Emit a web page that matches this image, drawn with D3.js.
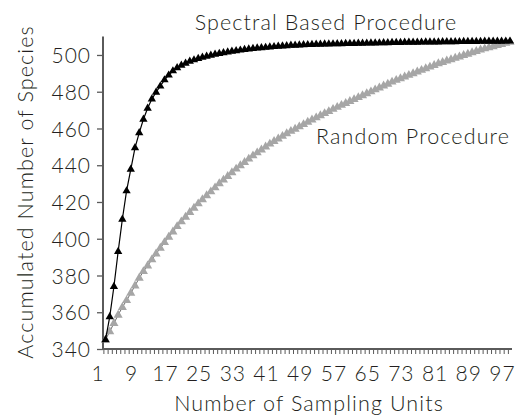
<!DOCTYPE html>
<html><head><meta charset="utf-8">
<script src="https://cdn.jsdelivr.net/npm/d3@7"></script>
<style>
html,body{margin:0;padding:0;background:#fff;}
svg text{font-family:Lato,"Open Sans",sans-serif;font-weight:300;fill:#231f20;}
</style></head>
<body><svg id="c" width="524" height="418"></svg>
<script>
const units = d3.range(1, 98);
const spectral = [345,357.5,374,393,410.6,426,437.8,449.5,457.6,465,471,476,479.7,483,486.4,489,491.3,493,494.4,495.5,
496.5,497.3,498,498.7,499.3,499.8,500.3,500.8,501.2,501.6,502,502.3,502.6,502.9,503.2,503.5,503.7,503.9,504.1,504.3,
504.5,504.7,504.9,505,505.2,505.3,505.4,505.5,505.6,505.7,505.8,505.85,505.9,505.95,506,506.05,506.1,506.15,506.2,506.25,
506.3,506.35,506.4,506.45,506.5,506.55,506.6,506.65,506.7,506.75,506.8,506.83,506.86,506.89,506.92,506.95,506.98,507.01,507.04,507.07,
507.1,507.13,507.16,507.19,507.22,507.25,507.28,507.31,507.34,507.37,507.4,507.42,507.44,507.46,507.48,507.5,507.5];
const random = [345,349.5,354,358.5,362.7,366.4,370.4,374.4,378.6,382.2,385.3,388.6,391.8,394.9,398,400.9,403.8,406.7,409.3,411.8,
414.4,416.7,419.1,421.3,423.5,425.6,427.8,430,432,434,436,438,439.8,441.6,443.4,445.2,446.8,448.4,450,451.6,
453,454.4,455.8,457.2,458.5,459.7,461,462.2,463.5,464.7,465.9,467,468.2,469.3,470.5,471.6,472.7,473.7,474.8,475.8,
476.9,477.9,479,480,481.1,482.1,483.2,484.2,485.3,486.3,487.2,488.1,489,489.9,490.8,491.7,492.6,493.5,494.4,495.3,
496,496.8,497.5,498.3,499,499.8,500.5,501.3,502,502.8,503.4,504,504.6,505.2,505.8,506.4,507];
const yTicks = [340,360,380,400,420,440,460,480,500];
const xLabels = [1,9,17,25,33,41,49,57,65,73,81,89,97];
const titleSpectral = "Spectral Based Procedure";
const titleRandom = "Random Procedure";
const xTitle = "Number of Sampling Units";
const yTitle = "Accumulated Number of Species";

const svg = d3.select("#c");
const x = d3.scalePoint().domain(units).range([105.5, 510]);
const y = d3.scaleLinear().domain([340, 510]).range([349, 36.6]);
const axisColor = "#5a5a5a";

// Y axis
const gy = svg.append("g").attr("transform","translate(103,0)")
  .call(d3.axisLeft(y).tickValues(yTicks).tickSize(6).tickPadding(6).tickSizeOuter(0));
gy.select(".domain").remove();
gy.selectAll(".tick line").attr("stroke",axisColor).attr("stroke-width",1.3);
gy.selectAll(".tick text").attr("font-size",21).attr("dy","0.36em").attr("letter-spacing",1)
  .style("font-family","Lato,sans-serif");
svg.append("line").attr("x1",103).attr("x2",103).attr("y1",y(510)).attr("y2",y(340))
  .attr("stroke",axisColor).attr("stroke-width",2);

// X axis minor ticks
const gx = svg.append("g").attr("transform","translate(0,349)")
  .call(d3.axisBottom(x).tickValues(units).tickSize(5).tickFormat(""));
gx.select(".domain").remove();
gx.selectAll(".tick line").attr("stroke",axisColor).attr("stroke-width",1).attr("transform","translate(-2.1,0)");
svg.append("line").attr("x1",102).attr("x2",512).attr("y1",349).attr("y2",349)
  .attr("stroke",axisColor).attr("stroke-width",2);
// X labels
const gxl = svg.append("g").attr("transform","translate(0,349)")
  .call(d3.axisBottom(x).tickValues(xLabels).tickSize(0).tickPadding(17));
gxl.select(".domain").remove();
gxl.selectAll(".tick text").attr("font-size",21).attr("dx",-8).attr("letter-spacing",1)
  .style("font-family","Lato,sans-serif");

const tri = d3.symbol().type(d3.symbolTriangle);
const line = d3.line().x((d,i)=>x(units[i])).y(d=>y(d));

// Random series
svg.append("path").datum(random).attr("d",line).attr("fill","none").attr("stroke","#444").attr("stroke-width",0.8);
svg.append("g").selectAll("path").data(random).join("path")
  .attr("d",tri.size(36)).attr("fill","#a6a6a6")
  .attr("transform",(d,i)=>`translate(${x(units[i])},${y(d)})`);

// Spectral series
svg.append("path").datum(spectral).attr("d",line).attr("fill","none").attr("stroke","#000").attr("stroke-width",1.2);
svg.append("g").selectAll("path").data(spectral).join("path")
  .attr("d",tri.size(30)).attr("fill","#000")
  .attr("transform",(d,i)=>`translate(${x(units[i])},${y(d)})`);

// Texts
const T = (s)=>svg.append("text").attr("font-size",21.5).attr("letter-spacing",1.1).attr("text-anchor","middle").text(s);
T(titleSpectral).attr("x",326).attr("y",29.5);
T(titleRandom).attr("x",413).attr("y",143.5);
T(xTitle).attr("x",309).attr("y",411);
T(yTitle).attr("transform","translate(33,192) rotate(-90)");
</script></body></html>
